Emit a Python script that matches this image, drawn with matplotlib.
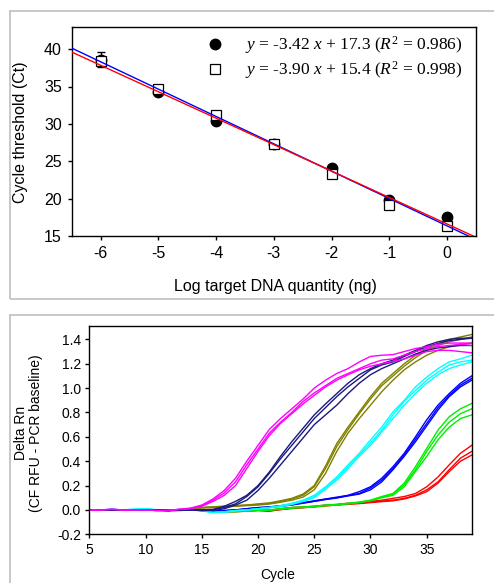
import numpy as np
import matplotlib
matplotlib.use("Agg")
import matplotlib.pyplot as plt
from matplotlib.patches import Rectangle
from matplotlib.lines import Line2D

plt.rcParams['font.family'] = ['Liberation Sans', 'DejaVu Sans']
plt.rcParams['mathtext.fontset'] = 'custom'
plt.rcParams['mathtext.rm'] = 'Liberation Serif'
plt.rcParams['mathtext.it'] = 'Liberation Serif:italic'
plt.rcParams['axes.unicode_minus'] = False

# ---------------- top panel data ----------------
log_qty = [-6, -5, -4, -3, -2, -1, 0]
ct_circles = [38.6, 34.2, 30.4, 27.3, 24.1, 19.8, 17.6]
ct_circles_err = [1.0, 0.3, 0.3, 0.2, 0.3, 0.3, 0.3]
ct_squares = [38.4, 34.7, 31.2, 27.3, 23.3, 19.2, 16.4]
ct_squares_err = [0.4, 0.4, 0.4, 0.3, 0.4, 0.3, 0.3]
fit_red = (-3.54, 16.6)    # slope, intercept as drawn
fit_blue = (-3.66, 16.35)
legend_labels = [r'$y$ = -3.42 $x$ + 17.3 ($R^2$ = 0.986)',
                 r'$y$ = -3.90 $x$ + 15.4 ($R^2$ = 0.998)']
top_xticks = [-6, -5, -4, -3, -2, -1, 0]
top_yticks = [15, 20, 25, 30, 35, 40]

# ---------------- bottom panel data ----------------
cycles = list(range(5, 40))
base = [0.0, 0.0, 0.0, 0.0, 0.0, 0.0, 0.0, -0.005, 0.0]
base_m = [0.0, 0.0, 0.005, 0.0, 0.0, 0.0, -0.005, -0.005, 0.005]
base_c = [0.0, 0.0, 0.005, 0.0, 0.005, 0.01, 0.0, -0.012, -0.005]

magenta = [
    base_m + [0.015,0.04,0.09,0.16,0.26,0.40,0.53,0.66,0.75,0.83,0.91,1.00,1.065,1.12,1.16,1.215,1.26,1.27,1.275,1.30,1.325,1.34,1.36,1.37,1.37,1.37],
    base_m + [0.012,0.035,0.08,0.14,0.23,0.37,0.50,0.63,0.72,0.80,0.89,0.96,1.02,1.08,1.12,1.16,1.20,1.23,1.24,1.27,1.30,1.325,1.34,1.35,1.36,1.35],
    base_m + [0.01,0.03,0.07,0.12,0.20,0.34,0.48,0.61,0.71,0.79,0.87,0.94,1.01,1.065,1.11,1.15,1.18,1.20,1.22,1.24,1.27,1.30,1.31,1.31,1.30,1.29],
]
navy = [
    base + [0.0,0.0,0.005,0.03,0.07,0.12,0.20,0.31,0.44,0.56,0.67,0.78,0.87,0.955,1.04,1.11,1.16,1.20,1.23,1.27,1.31,1.35,1.38,1.40,1.41,1.41],
    base + [0.0,-0.005,0.0,0.02,0.05,0.11,0.19,0.30,0.42,0.53,0.64,0.75,0.84,0.93,1.01,1.08,1.15,1.19,1.215,1.26,1.30,1.34,1.365,1.39,1.40,1.41],
    base + [0.0,-0.005,-0.005,0.01,0.04,0.08,0.16,0.26,0.37,0.48,0.59,0.70,0.78,0.86,0.955,1.04,1.11,1.16,1.20,1.24,1.28,1.31,1.33,1.34,1.35,1.35],
]
olive = [
    base + [0.01,0.02,0.025,0.03,0.035,0.04,0.05,0.058,0.075,0.095,0.13,0.20,0.36,0.545,0.68,0.805,0.93,1.04,1.12,1.20,1.27,1.325,1.365,1.40,1.42,1.44],
    base + [0.01,0.02,0.025,0.03,0.035,0.04,0.045,0.053,0.07,0.09,0.12,0.19,0.34,0.52,0.66,0.79,0.91,1.02,1.10,1.18,1.25,1.31,1.35,1.38,1.40,1.42],
    base + [0.01,0.015,0.02,0.025,0.03,0.035,0.04,0.048,0.063,0.08,0.105,0.165,0.30,0.48,0.63,0.75,0.86,0.97,1.065,1.15,1.215,1.27,1.31,1.34,1.36,1.37],
]
cyan = [
    base_c + [0.0,-0.005,-0.02,-0.015,-0.005,0.0,0.01,0.02,0.035,0.055,0.08,0.12,0.19,0.27,0.37,0.465,0.575,0.68,0.805,0.90,1.01,1.09,1.16,1.215,1.24,1.27],
    base_c + [0.0,-0.005,-0.02,-0.015,-0.005,0.0,0.01,0.02,0.03,0.05,0.075,0.11,0.18,0.26,0.355,0.45,0.55,0.655,0.78,0.89,0.98,1.065,1.13,1.19,1.215,1.23],
    base_c + [0.0,-0.008,-0.022,-0.018,-0.008,0.0,0.008,0.018,0.028,0.045,0.07,0.10,0.17,0.245,0.34,0.44,0.53,0.64,0.75,0.86,0.955,1.04,1.11,1.16,1.19,1.215],
]
blue = [
    base + [0.0,0.0,-0.01,-0.005,0.0,0.01,0.02,0.025,0.035,0.045,0.06,0.075,0.09,0.105,0.12,0.15,0.19,0.26,0.355,0.465,0.60,0.74,0.86,0.955,1.04,1.10],
    base + [0.0,0.0,-0.01,-0.005,0.0,0.01,0.018,0.023,0.033,0.043,0.058,0.072,0.088,0.10,0.118,0.135,0.18,0.245,0.34,0.45,0.58,0.71,0.84,0.94,1.024,1.08],
    base + [0.0,-0.003,-0.012,-0.008,-0.002,0.008,0.015,0.02,0.03,0.04,0.055,0.07,0.085,0.098,0.115,0.13,0.165,0.23,0.33,0.44,0.56,0.69,0.82,0.93,1.01,1.065],
]
green = [
    base + [0.0,0.0,-0.005,-0.01,-0.01,-0.005,0.0,0.0,0.01,0.02,0.025,0.03,0.04,0.045,0.055,0.065,0.08,0.11,0.135,0.22,0.355,0.505,0.655,0.765,0.83,0.874],
    base + [0.0,0.0,-0.005,-0.012,-0.012,-0.008,-0.003,0.0,0.008,0.018,0.022,0.028,0.038,0.043,0.052,0.062,0.078,0.105,0.13,0.205,0.33,0.48,0.615,0.72,0.79,0.83],
    base + [0.0,0.0,-0.008,-0.015,-0.015,-0.01,-0.005,-0.002,0.005,0.015,0.02,0.025,0.035,0.04,0.05,0.06,0.075,0.10,0.12,0.19,0.315,0.44,0.575,0.68,0.75,0.78],
]
red = [
    base + [0.0,0.0,-0.008,-0.01,-0.01,-0.005,0.0,-0.005,0.01,0.02,0.025,0.03,0.04,0.045,0.055,0.06,0.07,0.08,0.095,0.11,0.135,0.19,0.27,0.37,0.465,0.53],
    base + [0.0,0.0,-0.01,-0.012,-0.012,-0.008,-0.003,-0.008,0.005,0.015,0.02,0.028,0.036,0.042,0.05,0.055,0.065,0.072,0.08,0.095,0.12,0.165,0.23,0.33,0.425,0.48],
    base + [0.0,-0.002,-0.012,-0.015,-0.015,-0.01,-0.005,-0.01,0.002,0.012,0.018,0.025,0.033,0.04,0.047,0.052,0.06,0.068,0.075,0.09,0.115,0.15,0.22,0.315,0.40,0.45],
]
groups = [(red, '#ff0000'), (green, '#00ee00'), (blue, '#0000ff'),
          (cyan, '#00ffff'), (olive, '#808000'), (navy, '#1a1a80'),
          (magenta, '#ff00ff')]
bot_xticks = [5, 10, 15, 20, 25, 30, 35]
bot_yticks = [-0.2, 0.0, 0.2, 0.4, 0.6, 0.8, 1.0, 1.2, 1.4]

# ---------------- figure ----------------
W, H = 494, 583
fig = plt.figure(figsize=(W / 100, H / 100), dpi=100)

def fx(px):
    return px / W

def fy(py):
    return 1 - py / H

# panel frames
fig.patches.append(Rectangle((fx(9.5), fy(299)), 1.2, fy(10.5) - fy(299),
                             transform=fig.transFigure, fill=False,
                             edgecolor='#c4c4c4', lw=1.3))
fig.patches.append(Rectangle((fx(9.5), fy(620)), 1.2, fy(315) - fy(620),
                             transform=fig.transFigure, fill=False,
                             edgecolor='#c4c4c4', lw=1.3))

# ---- top axes ----
ax1 = fig.add_axes([fx(71.7), fy(236), fx(476) - fx(71.7), fy(26.7) - fy(236)])
ax1.errorbar(log_qty, ct_circles, yerr=ct_circles_err, fmt='o', ms=7.5,
             mfc='black', mec='black', ecolor='black', elinewidth=1,
             capsize=3, zorder=2)
ax1.errorbar(log_qty, ct_squares, yerr=ct_squares_err, fmt='s', ms=7.2,
             mfc='white', mec='black', mew=0.9, ecolor='black',
             elinewidth=1, capsize=3, zorder=3)
xl = np.array([-6.5, 0.5])
ax1.plot(xl, fit_blue[0] * xl + fit_blue[1], color='#0000ff', lw=1.0, zorder=4)
ax1.plot(xl, fit_red[0] * xl + fit_red[1], color='#ff0000', lw=1.0, zorder=4)
ax1.set_xlim(-6.5, 0.5)
ax1.set_ylim(15, 43)
ax1.set_xticks(top_xticks)
ax1.set_yticks(top_yticks)
ax1.tick_params(direction='out', length=3, width=1, labelsize=11.5,
                top=False, right=False, pad=4)
for s in ax1.spines.values():
    s.set_linewidth(1)

h1 = Line2D([], [], marker='o', ls='none', ms=7.5, mfc='black', mec='black')
h2 = Line2D([], [], marker='s', ls='none', ms=7.2, mfc='white', mec='black', mew=0.9)
leg = ax1.legend([h1, h2], legend_labels, loc='upper left',
                 bbox_to_anchor=(fx(197.6), fy(34)),
                 bbox_transform=fig.transFigure, frameon=False,
                 prop={'family': 'Liberation Serif', 'size': 12.5},
                 borderpad=0, borderaxespad=0, handlelength=2.0,
                 handletextpad=0.73, labelspacing=0.2)

fig.text(fx(21), fy(132), 'Cycle threshold (Ct)', rotation=90,
         ha='center', va='center', fontsize=11.5)
fig.text(fx(275), fy(287), 'Log target DNA quantity (ng)',
         ha='center', va='center', fontsize=11.5)

# ---- bottom axes ----
ax2 = fig.add_axes([fx(89.3), fy(534.3), fx(471.7) - fx(89.3), fy(326) - fy(534.3)])
for curves, col in groups:
    for cv in curves:
        ax2.plot(cycles, cv, color=col, lw=1.0)
ax2.set_xlim(5, 39)
ax2.set_ylim(-0.2, 1.51)
ax2.set_xticks(bot_xticks)
ax2.set_yticks(bot_yticks)
ax2.set_yticklabels([f'{v:.1f}' for v in bot_yticks])
ax2.tick_params(direction='out', length=3, width=1, labelsize=10,
                top=False, right=False, pad=3)
for s in ax2.spines.values():
    s.set_linewidth(1)

fig.text(fx(28.5), fy(433), 'Delta Rn\n(CF RFU - PCR baseline)', rotation=90,
         ha='center', va='center', fontsize=10, multialignment='center',
         linespacing=1.1)
fig.text(fx(278), fy(575), 'Cycle', ha='center', va='center', fontsize=10)

fig.savefig('out.png', dpi=100)
